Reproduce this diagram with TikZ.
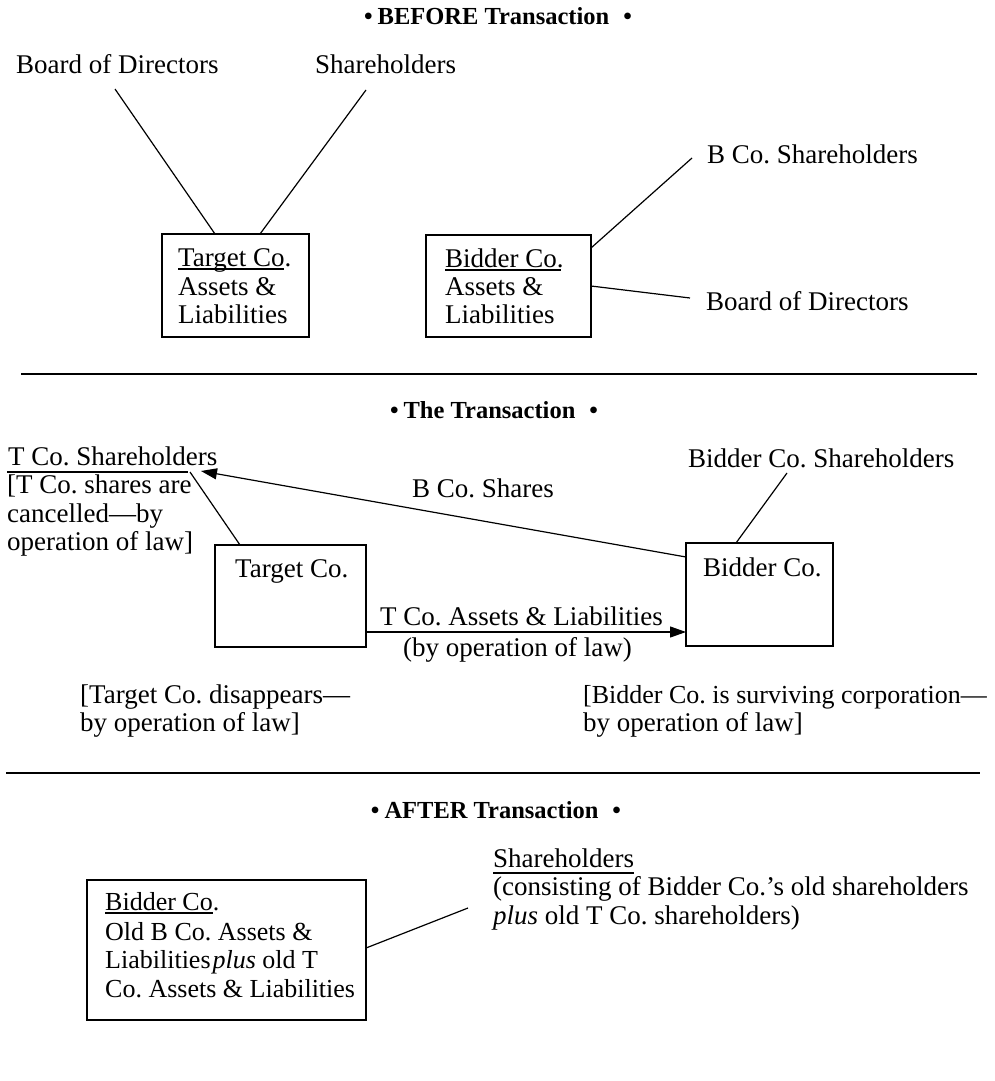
\documentclass[tikz,border=0pt]{standalone}
\usepackage{fontspec}
\setmainfont{Liberation Serif}
\usetikzlibrary{arrows.meta}
\frenchspacing

\begin{document}
\begin{tikzpicture}[x=1pt,y=-1pt,
  txt/.style={inner sep=0pt, anchor=base west, font=\fontsize{27}{29}\selectfont},
  txtnarrow/.style={txt, font=\fontsize{26}{29}\selectfont},
  ttl/.style={inner sep=0pt, anchor=base, font=\fontsize{24.5}{29}\selectfont\bfseries},
  cobox/.style={draw, line width=1.4pt, inner sep=0pt, outer sep=0pt},
  link/.style={line width=1.2pt},
  sep/.style={line width=1.6pt},
  tip/.style={-{Triangle[length=16pt,width=11pt]}}
]
\fill[white] (0,0) rectangle (995,1081);
\useasboundingbox (0,0) rectangle (995,1081);

% ---------------- Before the transaction ----------------
\node[ttl] (t1) at (498,25) {\textbullet\hspace{5pt}BEFORE Transaction\hspace{14pt}\textbullet};

\node[txt] (bod1) at (16,74) {Board of Directors};
\node[txt] (sh1) at (315,74) {Shareholders};

\node[cobox, minimum width=147pt, minimum height=103pt] (tbox) at (235.5,285.5) {};
\node[txt] (tl1) at (178,266) {Target Co.};
\node[txt] (tl2) at (178,295) {Assets \&};
\node[txt] (tl3) at (178,323) {Liabilities};
\draw[link] ([yshift=-3pt]tl1.base west) -- ([yshift=-3pt,xshift=-7pt]tl1.base east);

\node[cobox, minimum width=165pt, minimum height=102pt] (bbox) at (508.5,286) {};
\node[txt] (bl1) at (445,267) {Bidder Co.};
\node[txt] (bl2) at (445,295) {Assets \&};
\node[txt] (bl3) at (445,323) {Liabilities};
\draw[link] ([yshift=-3pt]bl1.base west) -- ([yshift=-3pt,xshift=-3pt]bl1.base east);

\node[txt] (bsh) at (707,163) {B Co. Shareholders};
\node[txt] (bod2) at (706,310) {Board of Directors};

\coordinate (bod1e) at (115,89);
\coordinate (sh1e) at (366,90);
\coordinate (bshe) at (692,158);
\coordinate (bod2e) at (690,298);
\draw[link] (bod1e) -- ([xshift=53pt]tbox.north west);
\draw[link] (sh1e) -- ([xshift=98pt]tbox.north west);
\draw[link] ([yshift=-13pt]bbox.north east) -- (bshe);
\draw[link] ([yshift=-51pt]bbox.north east) -- (bod2e);

\coordinate (r1a) at (21,374);
\coordinate (r1b) at (977,374);
\draw[sep] (r1a) -- (r1b);

% ---------------- The transaction ----------------
\node[ttl] (t2) at (494,418) {\textbullet\hspace{5pt}The Transaction\hspace{14pt}\textbullet};

\node[txt] (tsh) at (8,465) {T Co. Shareholders};
\draw[link] ([yshift=-7pt,xshift=-1pt]tsh.base west) -- ++(181,0);
\node[txt] (tc1) at (7,493) {[T Co. shares are};
\node[txt] (tc2) at (7,522) {cancelled\textemdash by};
\node[txt] (tc3) at (7,550) {operation of law]};

\node[cobox, minimum width=151pt, minimum height=102pt] (tbox2) at (290.5,596) {};
\node[txt] (tn2) at (235,577) {Target Co.};
\node[cobox, minimum width=147pt, minimum height=103pt] (bbox2) at (759.5,594.5) {};
\node[txt] (bn2) at (703,576) {Bidder Co.};

\node[txt] (bshares) at (412,497) {B Co. Shares};
\node[txt] (bsh2) at (688,467) {Bidder Co. Shareholders};
\node[txt] (assets) at (380,625) {T Co. Assets \& Liabilities};
\node[txt] (byop) at (403,656) {(by operation of law)};

\node[txt] (td1) at (80,703) {[Target Co. disappears\textemdash};
\node[txt] (td2) at (80,731) {by operation of law]};
\node[txtnarrow] (bs1) at (583,703) {[Bidder Co. is surviving corporation\textemdash};
\node[txt] (bs2) at (583,731) {by operation of law]};

\coordinate (tshe) at (190,472);
\coordinate (tsharr) at (201,471);
\coordinate (bsh2e) at (787,473);
\draw[link] ([xshift=25pt]tbox2.north west) -- (tshe);
\draw[link, tip] ([yshift=-14pt]bbox2.north west) -- (tsharr);
\draw[link] ([xshift=50pt]bbox2.north west) -- (bsh2e);
\draw[link, tip] ([yshift=-87pt]tbox2.north east) -- ([yshift=-89pt]bbox2.north west);

\coordinate (r2a) at (6,773);
\coordinate (r2b) at (980,773);
\draw[sep] (r2a) -- (r2b);

% ---------------- After the transaction ----------------
\node[ttl] (t3) at (496,818) {\textbullet\hspace{5pt}AFTER Transaction\hspace{14pt}\textbullet};

\node[cobox, minimum width=279pt, minimum height=140pt] (abox) at (226.5,950) {};
\node[txtnarrow] (ab1) at (105,910) {Bidder Co.};
\draw[link] ([yshift=-3pt]ab1.base west) -- ([yshift=-3pt,xshift=-7pt]ab1.base east);
\node[txtnarrow] (ab2) at (105,940) {Old B Co. Assets \&};
\node[txtnarrow] (ab3) at (105,968) {Liabilities\kern2pt\textit{plus} old T};
\node[txtnarrow] (ab4) at (105,997) {Co. Assets \& Liabilities};

\node[txt] (ash) at (493,867) {Shareholders};
\draw[link] ([yshift=-6pt]ash.base west) -- ([yshift=-6pt]ash.base east);
\node[txt] (ac1) at (493,895) {(consisting of Bidder Co.'s old shareholders};
\node[txt] (ac2) at (493,924) {\textit{plus} old T Co. shareholders)};

\coordinate (ashe) at (468,908);
\draw[link] ([yshift=-68pt]abox.north east) -- (ashe);
\end{tikzpicture}
\end{document}
